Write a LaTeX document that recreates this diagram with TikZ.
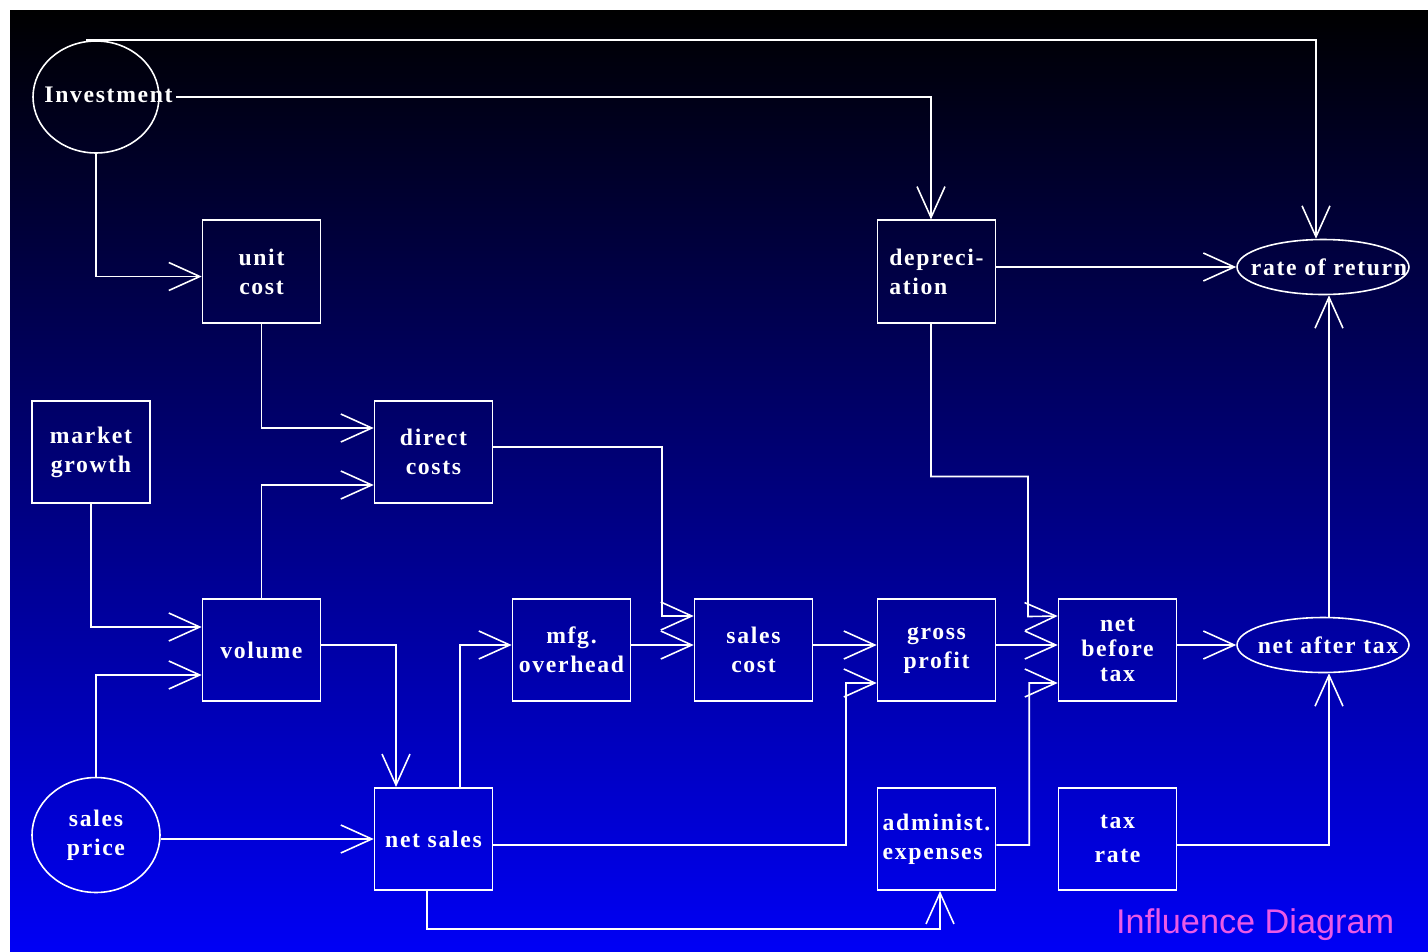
\documentclass[tikz,border=0pt]{standalone}
\usepackage{fontspec}
\usetikzlibrary{arrows.meta,shapes.geometric}
\newfontfamily\labfont[LetterSpace=7]{Liberation Serif}
\newfontfamily\capfont{Liberation Sans}
\definecolor{deepblue}{RGB}{0,0,245}
\definecolor{titlepink}{RGB}{235,90,230}

\begin{document}
\begin{tikzpicture}[
  x=0.02cm, y=-0.02cm,
  box/.style={draw=white, line width=0.9pt, align=center, minimum width=2.36cm, minimum height=2.05cm,
    inner sep=0pt, text=white, font=\labfont\bfseries\fontsize{13.5}{16.5}\selectfont},
  oval/.style={draw=white, line width=0.9pt, ellipse, inner sep=0pt, text=white,
    font=\labfont\bfseries\fontsize{13.5}{16.5}\selectfont},
  arr/.style={draw=white, line width=0.9pt, -{Straight Barb[length=0.62cm, width=0.56cm]}}
]
\useasboundingbox (0,0) rectangle (1428,951);
\fill[white] (0,0) rectangle (1428,951);
\shade[top color=black, bottom color=deepblue] (10,10) rectangle (1428,951);

% chance nodes
\node[oval, minimum width=2.52cm, minimum height=2.24cm] (inv) at (96,97) {\raisebox{0.08cm}{\makebox[0pt]{\hspace{0.5cm}Investment}}};
\node[oval, minimum width=2.56cm, minimum height=2.3cm, align=center] (price) at (96,835) {sales\\price};
\node[oval, minimum width=3.44cm, minimum height=1.1cm] (rate) at (1323,267) {\makebox[0pt]{\hspace{0.24cm}rate of return}};
\node[oval, minimum width=3.44cm, minimum height=1.1cm] (netafter) at (1323,645) {\makebox[0pt]{\hspace{0.2cm}net after tax}};

% value boxes
\node[box] (unit) at (261.5,271.5) {unit\\cost};
\node[box, align=left] (depr) at (936.5,271.5) {depreci-\\ation\hspace{1.1cm}};
\node[box] (mkt) at (91,452) {market\\growth};
\node[box] (direct) at (433.5,452) {direct\\costs};
\node[box] (volume) at (261.5,650) {volume};
\node[box] (mfg) at (571.5,650) {mfg.\\overhead};
\node[box] (salescost) at (753.5,650) {sales\\cost};
\node[box] (gross) at (936.5,650) {gross\\profit};
\node[box, font=\labfont\bfseries\fontsize{13.5}{14}\selectfont] (netbefore) at (1117.5,650) {net\\before\\tax};
\node[box] (netsales) at (433.5,839) {net sales};
\node[box, align=left] (admin) at (936.5,839) {administ.\\expenses};
\node[box, font=\labfont\bfseries\fontsize{13.5}{19}\selectfont] (taxrate) at (1117.5,839) {tax\\rate};

\node[text=titlepink, font=\capfont\fontsize{19.5}{22}\selectfont, anchor=west] (title) at (1110,925) {Influence Diagram};

% influences
\draw[arr] ([xshift=-0.2cm]inv.north) -| ([xshift=-0.14cm]rate.north);
\draw[arr] ([xshift=0.32cm]inv.east) -| ([xshift=-0.11cm]depr.north);
\draw[arr] (inv.south) |- ([yshift=-0.1cm]unit.west);
\draw[arr] (unit.south) |- ([yshift=0.48cm]direct.west);
\draw[arr] (volume.north) |- ([yshift=-0.66cm]direct.west);
\draw[arr] (mkt.south) |- ([yshift=0.46cm]volume.west);
\draw[arr] (price.north) |- ([yshift=-0.5cm]volume.west);
\draw[arr] ([yshift=0.1cm]volume.east) -| ([xshift=-0.75cm]netsales.north);
\draw[arr] (price.east |- netsales.west) -- (netsales.west);
\draw[arr] ([xshift=0.53cm]netsales.north) |- ([yshift=0.1cm]mfg.west);
\draw[arr] ([yshift=0.1cm]mfg.east) -- ([yshift=0.1cm]salescost.west);
\draw[arr] ([yshift=0.1cm]direct.east) -- ++(169,0) |- ([yshift=0.68cm]salescost.west);
\draw[arr] ([yshift=0.1cm]salescost.east) -- ([yshift=0.1cm]gross.west);
\draw[arr] ([yshift=-0.12cm]netsales.east) -- ++(353,0) |- ([yshift=-0.66cm]gross.west);
\draw[arr] ([xshift=-0.13cm]netsales.south) -- ++(0,38) -| ([xshift=0.07cm]admin.south);
\draw[arr] ([yshift=0.1cm]gross.east) -- ([yshift=0.1cm]netbefore.west);
\draw[arr] ([xshift=-0.11cm]depr.south) -- ++(0,153) -| ++(97,140) -- ([yshift=0.68cm]netbefore.west);
\draw[arr] ([yshift=-0.12cm]admin.east) -| ++(33,-162) -- ([yshift=-0.66cm]netbefore.west);
\draw[arr] (depr.east |- rate.west) -- (rate.west);
\draw[arr] (netbefore.east |- netafter.west) -- (netafter.west);
\draw[arr] ([xshift=0.12cm]netafter.north) -- ([xshift=0.12cm]rate.south);
\draw[arr] ([yshift=-0.12cm]taxrate.east) -| ([xshift=0.12cm]netafter.south);
\end{tikzpicture}
\end{document}
